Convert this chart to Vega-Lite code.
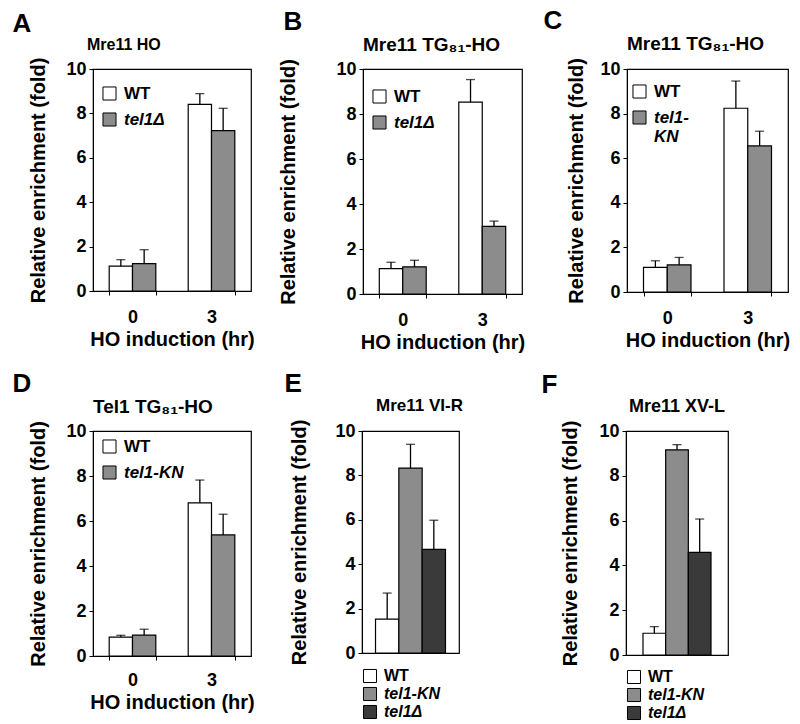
{
  "$schema": "https://vega.github.io/schema/vega-lite/v6.json",
  "padding": {"left": 12, "top": 8, "right": 5, "bottom": 5},
  "config": {
    "font": "Liberation Sans",
    "view": {"stroke": "black", "strokeWidth": 1.2},
    "axis": {"labelFont": "Liberation Sans", "labelFontWeight": "bold", "labelFontSize": 18, "labelColor": "black", "titleFont": "Liberation Sans", "titleFontSize": 20, "titleFontWeight": "bold", "titleColor": "black", "domainColor": "black", "tickColor": "black", "tickSize": 4, "grid": false, "labelPadding": 3},
    "title": {"font": "Liberation Sans", "fontWeight": "bold", "color": "black"},
    "legend": {"symbolType": "square", "symbolSize": 170, "symbolStrokeColor": "black", "symbolStrokeWidth": 1, "labelFont": "Liberation Sans", "labelFontSize": 17, "labelFontWeight": "bold", "labelColor": "black", "padding": 0, "labelOffset": 6, "rowPadding": 7, "labelFontStyle": {"expr": "datum.value == 'WT' ? 'normal' : 'italic'"}}
  },
  "datasets": {
    "A": [
      {"time": "0", "genotype": "WT", "value": 1.12, "upper": 1.41},
      {"time": "0", "genotype": "tel1Δ", "value": 1.23, "upper": 1.86},
      {"time": "3", "genotype": "WT", "value": 8.41, "upper": 8.89},
      {"time": "3", "genotype": "tel1Δ", "value": 7.22, "upper": 8.23}
    ],
    "B": [
      {"time": "0", "genotype": "WT", "value": 1.13, "upper": 1.41},
      {"time": "0", "genotype": "tel1Δ", "value": 1.21, "upper": 1.5},
      {"time": "3", "genotype": "WT", "value": 8.53, "upper": 9.53},
      {"time": "3", "genotype": "tel1Δ", "value": 3.01, "upper": 3.24}
    ],
    "C": [
      {"time": "0", "genotype": "WT", "value": 1.1, "upper": 1.4},
      {"time": "0", "genotype": "tel1-KN", "value": 1.22, "upper": 1.55},
      {"time": "3", "genotype": "WT", "value": 8.24, "upper": 9.46},
      {"time": "3", "genotype": "tel1-KN", "value": 6.55, "upper": 7.21}
    ],
    "D": [
      {"time": "0", "genotype": "WT", "value": 0.84, "upper": 0.92},
      {"time": "0", "genotype": "tel1-KN", "value": 0.93, "upper": 1.19},
      {"time": "3", "genotype": "WT", "value": 6.81, "upper": 7.82},
      {"time": "3", "genotype": "tel1-KN", "value": 5.38, "upper": 6.3}
    ],
    "E": [
      {"genotype": "WT", "value": 1.53, "upper": 2.7},
      {"genotype": "tel1-KN", "value": 8.33, "upper": 9.4},
      {"genotype": "tel1Δ", "value": 4.67, "upper": 5.98}
    ],
    "F": [
      {"genotype": "WT", "value": 0.97, "upper": 1.27},
      {"genotype": "tel1-KN", "value": 9.16, "upper": 9.39},
      {"genotype": "tel1Δ", "value": 4.58, "upper": 6.07}
    ]
  },
  "spacing": 17,
  "resolve": {"scale": {"x": "independent", "y": "independent", "color": "independent", "xOffset": "independent"}, "legend": {"color": "independent"}},
  "vconcat": [
    {
      "spacing": 23,
      "resolve": {"scale": {"x": "independent", "y": "independent", "color": "independent", "xOffset": "independent"}, "legend": {"color": "independent"}},
      "hconcat": [
        {
          "title": {"text": "A", "fontSize": 26, "anchor": "start", "frame": "bounds", "offset": 0, "dx": -16},
          "vconcat": [
            {
              "title": {"text": "Mre11 HO", "fontSize": 16, "anchor": "start", "frame": "group", "offset": 4, "dx": -6},
              "width": 158, "height": 222,
              "data": {"name": "A"},
              "encoding": {
                "x": {"field": "time", "type": "nominal", "sort": ["0", "3"], "scale": {"paddingInner": 0.41, "paddingOuter": 0.205}, "axis": {"title": "HO induction (hr)", "labelAngle": 0, "tickBand": "extent", "labelPadding": 13, "titlePadding": 3}},
                "xOffset": {"field": "genotype", "type": "nominal", "sort": ["WT", "tel1Δ"]}
              },
              "layer": [
                {
                  "mark": {"type": "bar", "stroke": "black", "strokeWidth": 1.2},
                  "encoding": {
                    "y": {"field": "value", "type": "quantitative", "scale": {"domain": [0, 10]}, "axis": {"title": "Relative enrichment (fold)", "values": [0, 2, 4, 6, 8, 10], "titlePadding": 17}},
                    "color": {"field": "genotype", "type": "nominal", "sort": ["WT", "tel1Δ"], "scale": {"domain": ["WT", "tel1Δ"], "range": ["white", "#8c8c8c"]}, "legend": {"title": null, "orient": "none", "legendX": 8, "legendY": 16}}
                  }
                },
                {"mark": {"type": "rule", "color": "black", "strokeWidth": 1.3}, "encoding": {"y": {"field": "value", "type": "quantitative"}, "y2": {"field": "upper"}}},
                {"mark": {"type": "tick", "color": "black", "thickness": 1.3}, "encoding": {"y": {"field": "upper", "type": "quantitative"}, "size": {"value": 9}}}
              ]
            }
          ]
        },
        {
          "spacing": 17,
          "resolve": {"scale": {"x": "independent", "y": "independent", "color": "independent", "xOffset": "independent"}, "legend": {"color": "independent"}},
          "hconcat": [
            {
              "title": {"text": "B", "fontSize": 26, "anchor": "start", "frame": "bounds", "offset": 0, "dx": 5},
              "vconcat": [
                {
                  "title": {"text": "Mre11 TG₈₁-HO", "fontSize": 19, "anchor": "start", "frame": "group", "offset": 4},
                  "width": 159, "height": 225,
                  "data": {"name": "B"},
                  "encoding": {
                    "x": {"field": "time", "type": "nominal", "sort": ["0", "3"], "scale": {"paddingInner": 0.41, "paddingOuter": 0.205}, "axis": {"title": "HO induction (hr)", "labelAngle": 0, "tickBand": "extent", "labelPadding": 13, "titlePadding": 3}},
                    "xOffset": {"field": "genotype", "type": "nominal", "sort": ["WT", "tel1Δ"]}
                  },
                  "layer": [
                    {
                      "mark": {"type": "bar", "stroke": "black", "strokeWidth": 1.2},
                      "encoding": {
                        "y": {"field": "value", "type": "quantitative", "scale": {"domain": [0, 10]}, "axis": {"title": "Relative enrichment (fold)", "values": [0, 2, 4, 6, 8, 10], "titlePadding": 37}},
                        "color": {"field": "genotype", "type": "nominal", "sort": ["WT", "tel1Δ"], "scale": {"domain": ["WT", "tel1Δ"], "range": ["white", "#8c8c8c"]}, "legend": {"title": null, "orient": "none", "legendX": 8, "legendY": 19}}
                      }
                    },
                    {"mark": {"type": "rule", "color": "black", "strokeWidth": 1.3}, "encoding": {"y": {"field": "value", "type": "quantitative"}, "y2": {"field": "upper"}}},
                    {"mark": {"type": "tick", "color": "black", "thickness": 1.3}, "encoding": {"y": {"field": "upper", "type": "quantitative"}, "size": {"value": 9}}}
                  ]
                }
              ]
            },
            {
              "title": {"text": "C", "fontSize": 26, "anchor": "start", "frame": "bounds", "offset": 0, "dx": -23},
              "vconcat": [
                {
                  "title": {"text": "Mre11 TG₈₁-HO", "fontSize": 19, "anchor": "start", "frame": "group", "offset": 4},
                  "width": 161, "height": 223,
                  "data": {"name": "C"},
                  "encoding": {
                    "x": {"field": "time", "type": "nominal", "sort": ["0", "3"], "scale": {"paddingInner": 0.41, "paddingOuter": 0.205}, "axis": {"title": "HO induction (hr)", "labelAngle": 0, "tickBand": "extent", "labelPadding": 13, "titlePadding": 3}},
                    "xOffset": {"field": "genotype", "type": "nominal", "sort": ["WT", "tel1-KN"]}
                  },
                  "layer": [
                    {
                      "mark": {"type": "bar", "stroke": "black", "strokeWidth": 1.2},
                      "encoding": {
                        "y": {"field": "value", "type": "quantitative", "scale": {"domain": [0, 10]}, "axis": {"title": "Relative enrichment (fold)", "values": [0, 2, 4, 6, 8, 10], "titlePadding": 13}},
                        "color": {"field": "genotype", "type": "nominal", "sort": ["WT", "tel1-KN"], "scale": {"domain": ["WT", "tel1-KN"], "range": ["white", "#8c8c8c"]}, "legend": {"title": null, "orient": "none", "legendX": 4, "legendY": 14, "labelExpr": "datum.label == 'tel1-KN' ? ['tel1-', '\u2003\u2002KN'] : datum.label"}}
                      }
                    },
                    {"mark": {"type": "rule", "color": "black", "strokeWidth": 1.3}, "encoding": {"y": {"field": "value", "type": "quantitative"}, "y2": {"field": "upper"}}},
                    {"mark": {"type": "tick", "color": "black", "thickness": 1.3}, "encoding": {"y": {"field": "upper", "type": "quantitative"}, "size": {"value": 9}}}
                  ]
                }
              ]
            }
          ]
        }
      ]
    },
    {
      "spacing": 29,
      "resolve": {"scale": {"x": "independent", "y": "independent", "color": "independent", "xOffset": "independent"}, "legend": {"color": "independent"}},
      "hconcat": [
        {
          "title": {"text": "D", "fontSize": 26, "anchor": "start", "frame": "bounds", "offset": 0, "dx": -16},
          "vconcat": [
            {
              "title": {"text": "Tel1 TG₈₁-HO", "fontSize": 19, "anchor": "start", "frame": "group", "offset": 4},
              "width": 158, "height": 225,
              "data": {"name": "D"},
              "encoding": {
                "x": {"field": "time", "type": "nominal", "sort": ["0", "3"], "scale": {"paddingInner": 0.41, "paddingOuter": 0.205}, "axis": {"title": "HO induction (hr)", "labelAngle": 0, "tickBand": "extent", "labelPadding": 11, "titlePadding": 3}},
                "xOffset": {"field": "genotype", "type": "nominal", "sort": ["WT", "tel1-KN"]}
              },
              "layer": [
                {
                  "mark": {"type": "bar", "stroke": "black", "strokeWidth": 1.2},
                  "encoding": {
                    "y": {"field": "value", "type": "quantitative", "scale": {"domain": [0, 10]}, "axis": {"title": "Relative enrichment (fold)", "values": [0, 2, 4, 6, 8, 10], "titlePadding": 17}},
                    "color": {"field": "genotype", "type": "nominal", "sort": ["WT", "tel1-KN"], "scale": {"domain": ["WT", "tel1-KN"], "range": ["white", "#8c8c8c"]}, "legend": {"title": null, "orient": "none", "legendX": 8, "legendY": 7}}
                  }
                },
                {"mark": {"type": "rule", "color": "black", "strokeWidth": 1.3}, "encoding": {"y": {"field": "value", "type": "quantitative"}, "y2": {"field": "upper"}}},
                {"mark": {"type": "tick", "color": "black", "thickness": 1.3}, "encoding": {"y": {"field": "upper", "type": "quantitative"}, "size": {"value": 9}}}
              ]
            }
          ]
        },
        {
          "spacing": 77,
          "resolve": {"scale": {"x": "independent", "y": "independent", "color": "independent"}, "legend": {"color": "independent"}},
          "hconcat": [
            {
              "title": {"text": "E", "fontSize": 26, "anchor": "start", "frame": "bounds", "offset": 0, "dx": -5},
              "vconcat": [
                {
                  "title": {"text": "Mre11 VI-R", "fontSize": 17, "anchor": "start", "frame": "group", "offset": 4, "dx": 14},
                  "width": 97, "height": 222,
                  "data": {"name": "E"},
                  "encoding": {
                    "x": {"field": "genotype", "type": "nominal", "sort": ["WT", "tel1-KN", "tel1Δ"], "scale": {"paddingInner": 0, "paddingOuter": 0.58}, "axis": null}
                  },
                  "layer": [
                    {
                      "mark": {"type": "bar", "stroke": "black", "strokeWidth": 1.2},
                      "encoding": {
                        "y": {"field": "value", "type": "quantitative", "scale": {"domain": [0, 10]}, "axis": {"title": "Relative enrichment (fold)", "values": [0, 2, 4, 6, 8, 10], "titlePadding": 25}},
                        "color": {"field": "genotype", "type": "nominal", "sort": ["WT", "tel1-KN", "tel1Δ"], "scale": {"domain": ["WT", "tel1-KN", "tel1Δ"], "range": ["white", "#8c8c8c", "#3a3a3a"]}, "legend": {"title": null, "orient": "bottom", "direction": "vertical", "offset": 2, "rowPadding": 0, "labelFontSize": 16}}
                      }
                    },
                    {"mark": {"type": "rule", "color": "black", "strokeWidth": 1.3}, "encoding": {"y": {"field": "value", "type": "quantitative"}, "y2": {"field": "upper"}}},
                    {"mark": {"type": "tick", "color": "black", "thickness": 1.3}, "encoding": {"y": {"field": "upper", "type": "quantitative"}, "size": {"value": 9}}}
                  ]
                }
              ]
            },
            {
              "title": {"text": "F", "fontSize": 26, "anchor": "start", "frame": "bounds", "offset": 0, "dx": -19},
              "vconcat": [
                {
                  "title": {"text": "Mre11 XV-L", "fontSize": 18, "anchor": "start", "frame": "group", "offset": 4, "dx": 3},
                  "width": 102, "height": 224,
                  "data": {"name": "F"},
                  "encoding": {
                    "x": {"field": "genotype", "type": "nominal", "sort": ["WT", "tel1-KN", "tel1Δ"], "scale": {"paddingInner": 0, "paddingOuter": 0.75}, "axis": null}
                  },
                  "layer": [
                    {
                      "mark": {"type": "bar", "stroke": "black", "strokeWidth": 1.2},
                      "encoding": {
                        "y": {"field": "value", "type": "quantitative", "scale": {"domain": [0, 10]}, "axis": {"title": "Relative enrichment (fold)", "values": [0, 2, 4, 6, 8, 10], "titlePadding": 18}},
                        "color": {"field": "genotype", "type": "nominal", "sort": ["WT", "tel1-KN", "tel1Δ"], "scale": {"domain": ["WT", "tel1-KN", "tel1Δ"], "range": ["white", "#8c8c8c", "#3a3a3a"]}, "legend": {"title": null, "orient": "bottom", "direction": "vertical", "offset": 2, "rowPadding": 0, "labelFontSize": 16}}
                      }
                    },
                    {"mark": {"type": "rule", "color": "black", "strokeWidth": 1.3}, "encoding": {"y": {"field": "value", "type": "quantitative"}, "y2": {"field": "upper"}}},
                    {"mark": {"type": "tick", "color": "black", "thickness": 1.3}, "encoding": {"y": {"field": "upper", "type": "quantitative"}, "size": {"value": 9}}}
                  ]
                }
              ]
            }
          ]
        }
      ]
    }
  ]
}
